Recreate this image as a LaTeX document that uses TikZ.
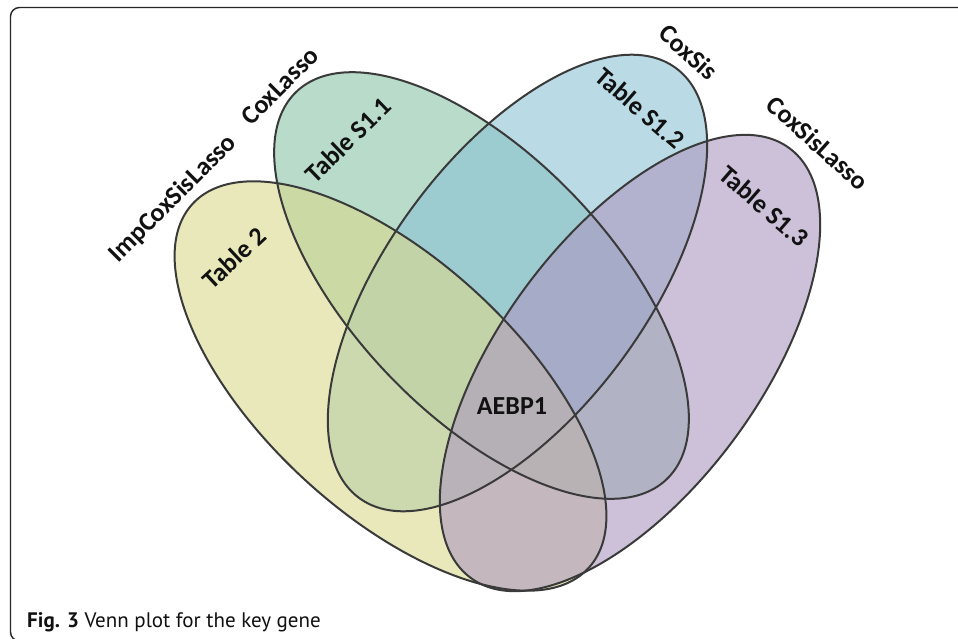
\documentclass[tikz,border=0pt]{standalone}
\usepackage{fontspec}
\setmainfont{Carlito}
\newfontfamily\capfont{PT Sans}
\definecolor{cY}{RGB}{217,217,140}
\definecolor{cG}{RGB}{138,195,168}
\definecolor{cB}{RGB}{140,195,213}
\definecolor{cP}{RGB}{173,152,193}
\definecolor{edgecol}{RGB}{58,58,58}
\definecolor{txtcol}{RGB}{17,17,17}
\begin{document}
\begin{tikzpicture}[x=1pt,y=-1pt,
  setfill/.style={fill opacity=0.6},
  outline/.style={draw=edgecol, line width=2pt},
  shY/.style={rotate around={-42.6:(390.5,386)}},
  shG/.style={rotate around={-46.3:(481.5,285.5)}},
  shB/.style={rotate around={53.6:(517.5,283)}},
  shP/.style={rotate around={53.4:(630,363)}},
  lbl/.style={font=\fontsize{26}{30}\selectfont\bfseries, text=txtcol, inner sep=0pt}]
\useasboundingbox (0,0) rectangle (958,638);
\fill[white] (0,0) rectangle (958,638);
% fills (order: green, blue, yellow, purple)
\fill[cG, setfill, shG] (481.5,285.5) ellipse [x radius=268pt, y radius=129pt];
\fill[cB, setfill, shB] (517.5,283) ellipse [x radius=267pt, y radius=129.5pt];
\fill[cY, setfill, shY] (390.5,386) ellipse [x radius=269pt, y radius=127pt];
\fill[cP, setfill, shP] (630,363) ellipse [x radius=267.5pt, y radius=129pt];
% outlines
\draw[outline, shG] (481.5,285.5) ellipse [x radius=268pt, y radius=129pt];
\draw[outline, shB] (517.5,283) ellipse [x radius=267pt, y radius=129.5pt];
\draw[outline, shY] (390.5,386) ellipse [x radius=269pt, y radius=127pt];
\draw[outline, shP] (630,363) ellipse [x radius=267.5pt, y radius=129pt];
% frame
\begin{scope}
\clip (0,0) rectangle (958,638);
\draw[line width=1.4pt, rounded corners=9pt, black!85] (10.5,7.5) rectangle (990,641);
\end{scope}
% labels
\node[lbl, rotate=45] (impl) at (173,199) {ImpCoxSisLasso};
\node[lbl, rotate=45] (coxl) at (280,86) {CoxLasso};
\node[lbl, rotate=44] (t11) at (348,140) {Table S1.1};
\node[lbl, rotate=43] (t2) at (234,258) {Table 2};
\node[lbl, rotate=-42] (coxs) at (689,52) {CoxSis};
\node[lbl, rotate=-41] (t12) at (640,108) {Table S1.2};
\node[lbl, rotate=-42] (coxsl) at (818,143) {CoxSisLasso};
\node[lbl, rotate=-41] (t13) at (764,206) {Table S1.3};
\node[lbl] (aebp) at (512,406) {AEBP1};
\node[anchor=base west, inner sep=0pt, text=txtcol, font=\capfont\fontsize{21}{25}\selectfont] (cap) at (27,627) {\textbf{Fig. 3} Venn plot for the key gene};
\end{tikzpicture}
\end{document}
